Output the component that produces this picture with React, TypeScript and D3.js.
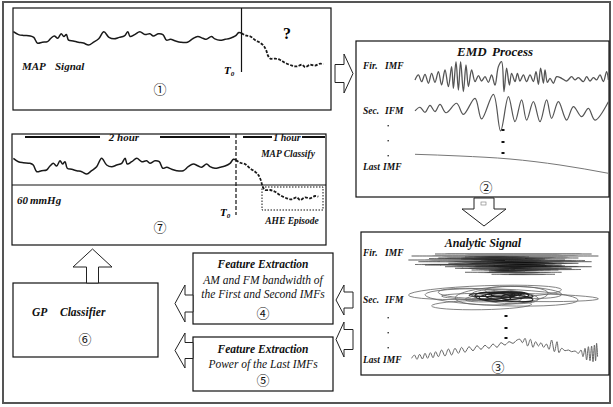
import React from 'react';
import * as d3 from 'd3';

// MAP trace as [minutes, mmHg], T0 at 120 min
const mapBefore: [number, number][] = [
  [0.2, 86.7], [2.9, 83.3], [5.5, 82.3], [9.1, 81.7], [10.9, 80], [12.8, 73.3], [15.4, 74.3],
  [18.1, 75], [19.9, 79], [21.7, 81.7], [23.5, 79], [25.3, 84.3], [26.7, 81], [28, 83.3],
  [29.2, 76.7], [31.6, 75.7], [34.3, 74.3], [37, 73.3], [39.7, 71], [42.3, 74.3], [45, 78.3],
  [47.7, 86.7], [50.4, 80], [53.1, 78.3], [55.8, 80], [58.5, 81.7], [60.3, 86.7], [61.5, 81],
  [63.9, 83.3], [66.6, 86.7], [69.3, 83.3], [71.9, 84.3], [73.7, 81.7], [76.4, 84.3], [78.7, 83.3],
  [80.6, 76.7], [82.7, 77.7], [85.4, 75.7], [88.1, 74.3], [91.6, 74.3], [94.3, 78.3], [97, 81],
  [99.7, 79], [101.5, 77.7], [104.2, 81], [106, 78.3], [108.7, 76.7], [111.4, 77.7], [114.1, 79],
  [116.8, 81.7], [118.6, 85.7], [120, 85],
];
const mapAfter: [number, number][] = [
  [120, 85], [122.7, 82.3], [126, 81], [129.3, 76.7], [132.7, 73.3], [134.9, 70], [136.5, 65],
  [137.8, 58.3], [139.3, 55], [142.7, 55], [146, 53.3], [149.3, 50], [153.8, 46.7], [157.1, 45.7],
  [160.5, 47.7], [162.7, 45], [166, 47.7], [169.3, 46.7], [172.7, 49], [174.9, 48.3],
];
const thresholdMmHg = 60;

// EMD components, [percent of record, normalized amplitude]
const firImf: [number, number][] = [
  [2.5, -0.1], [4.2, 0.21], [5.8, -0.21], [7.5, 0.25], [9.2, -0.31], [10.8, 0.31], [12.5, -0.25],
  [14.2, 0.42], [15.8, -0.42], [17.5, 0.52], [19.2, -0.52], [20.8, 0.73], [21.7, -0.63], [23, 1.04],
  [24.2, -0.73], [25.3, 1.04], [26.7, -0.83], [28, 0.83], [29.2, -0.52], [30.8, 0.52], [32.5, -0.21],
  [34.2, 0.17], [35.8, -0.17], [37.5, 0.1], [39.2, -0.25], [40.8, 0.21], [42.5, -0.42], [44.2, 0.73],
  [45.8, 1.04], [47, -0.83], [48.3, 0.63], [49.7, -0.42], [50.8, 0.31], [52.5, -0.21], [53.7, 0.31],
  [55, -0.17], [56.7, 0.21], [58.3, -0.21], [60, 0.21], [61.7, -0.21], [63, 0.42], [64.2, -0.38],
  [65.3, 0.63], [66.7, -0.31], [67.5, 0.52], [68.7, -0.25], [70, 0], [71.7, -0.31], [73.3, 0.1],
  [75.8, 0], [78.3, -0.17], [80.8, 0.1], [82.5, -0.1], [84.2, 0.04], [86.7, -0.21], [88.3, 0.1],
  [90, -0.17], [91.7, 0.04], [93.3, -0.1], [95, 0.21], [96.7, -0.21], [98.3, 0.42], [99.2, -0.1],
];
const secImf: [number, number][] = [
  [2.5, -0.06], [5, 0.17], [7.5, -0.15], [10, 0.29], [12.5, -0.1], [15, 0.35], [18, -0.17],
  [23.3, 0.42], [26.7, -0.27], [32.5, 0.73], [35.8, -0.56], [41.7, 0.98], [45.3, -1.31], [49.2, 0.83],
  [52.5, -0.73], [55.8, 0.63], [58.3, -0.63], [61.7, 0.52], [65, -0.73], [68.3, 0.63], [70.8, -0.52],
  [74.2, 0.52], [78.3, -0.63], [81.7, 0.21], [85.8, -0.42], [89.2, 0.1], [92.5, -0.63], [99.2, 0.52],
];
const lastImf: [number, number][] = [[2.5, 0.97], [25, 0.8], [50, 0.5], [75, -0.1], [99.2, -0.93]];

// analytic signal traces
// fir: [start %, end %, level, thickness]
const firAnalytic: [number, number, number, number][] = [
  [15, 93.3, 1.0, 0.6], [3.3, 96.7, 0.8, 0.8], [16.7, 86.7, 0.6, 1.8], [1.7, 80, 0.4, 0.9],
  [6.7, 93.3, 0.23, 1.6], [21.7, 86.7, 0.07, 2.2], [10, 78.3, -0.1, 1.2], [20, 93.3, -0.27, 2.0],
  [25, 83.3, -0.43, 1.4], [33.3, 76.7, -0.6, 2.0], [30, 78.3, -0.83, 1.2], [43.3, 75, -1.03, 1.0],
  [28, 70, 0.5, 2.6], [35, 80, -0.2, 2.8], [40, 72, 0.15, 2.6], [45, 65, -0.4, 2.0],
  [30, 62, 0.7, 1.6], [38, 68, 0.32, 2.4], [48, 70, -0.05, 2.2], [42, 60, -0.7, 1.8],
  [12, 60, 0.55, 0.7], [50, 90, 0.35, 0.8], [5, 45, -0.05, 0.7], [55, 88, -0.55, 0.7],
];
// sec: [centre %, level, half width %, half height, tilt deg]
const secAnalytic: [number, number, number, number, number][] = [
  [40, 0.43, 38.3, 0.67, -2], [48.3, -0.07, 38.3, 0.83, 2], [57.5, -0.07, 39.2, 0.4, 1],
  [48.3, 0.1, 23.3, 0.9, -3], [50, 0, 16.7, 0.67, 4], [38.3, -0.83, 25, 0.47, -1],
  [59.2, 0.43, 19.2, 0.57, 3], [45, -0.07, 15, 0.4, -4], [50, 0, 8.3, 0.5, 8],
  [33.3, 0.33, 16.7, 0.5, 2], [47, 0.1, 10, 0.3, -6], [52, -0.1, 12, 0.35, 5],
  [44, 0, 9, 0.45, 3], [55, 0.05, 7, 0.3, -5], [49, 0.2, 6, 0.25, 0],
  [46, 0.25, 14, 0.2, -2], [53, 0.15, 11, 0.25, 3],
];
const lastAnalytic: [number, number][] = [
  [3.3, 0.17], [4.7, 0.5], [6, 0.07], [7.3, 0.57], [8.7, 0.1], [10, 0.67], [11.3, 0.17], [12.7, 0.73],
  [14, 0.23], [15.3, 0.83], [16.7, 0.33], [18.3, 1.0], [20, 0.4], [21.7, 1.1], [23.3, 0.5], [25, 1.17],
  [26.7, 0.67], [28.3, 1.27], [30, 0.77], [32, 1.33], [34, 0.93], [36, 1.43], [38, 1.07], [40, 1.47],
  [42, 1.17], [44, 1.6], [46, 1.27], [48, 1.73], [50, 1.5], [52, 1.83], [54, 1.67], [56, 2.0],
  [57.5, 2.07], [58.7, 1.73], [60, 2.17], [61.3, 1.4], [62.7, 2.07], [64, 1.27], [65.3, 1.83],
  [66.7, 1.4], [68, 1.73], [69.3, 1.27], [70.7, 1.6], [72, 1.07], [73.3, 2.0], [74.7, 0.83], [76, 1.83],
  [77, 0.73], [78.3, 1.17], [80, 0.93], [81.7, 1.0], [83.3, 0.83], [85, 0.9], [86.7, 0.67], [88, 1.0],
  [89, 0.33], [90, 1.17], [90.8, 0], [91.7, 1.33], [92.5, -0.07], [93.3, 1.4], [94, -0.17], [94.7, 1.5],
  [95.3, -0.07], [95.8, 1.67], [96.3, 0.33],
];

const steps = ['①', '②', '③', '④', '⑤', '⑥', '⑦'];

const serif = '"Liberation Serif", "Times New Roman", serif';
const circFont = '"Noto Sans CJK JP", "DejaVu Sans", sans-serif';

type Dir = 'right' | 'left' | 'up' | 'down';
function blockArrow(tx: number, ty: number, dir: Dir, len: number, headLen: number, shaftHalf: number, headHalf: number) {
  const pts = [[0, 0], [-headLen, -headHalf], [-headLen, -shaftHalf], [-len, -shaftHalf], [-len, shaftHalf], [-headLen, shaftHalf], [-headLen, headHalf]];
  const a = ({ right: 0, down: 90, left: 180, up: 270 }[dir] * Math.PI) / 180;
  const c = Math.cos(a), s = Math.sin(a);
  return pts.map(([x, y]) => `${tx + x * c - y * s},${ty + x * s + y * c}`).join(' ');
}

const B = ({ x, y, size = 11, children, anchor = 'start', weight = 'bold' }: any) => (
  <text x={x} y={y} fontSize={size} fontStyle="italic" fontWeight={weight} textAnchor={anchor} fontFamily={serif} fill="#111">{children}</text>
);
const Num = ({ x, y, i }: any) => (
  <text x={x} y={y} fontSize={13} textAnchor="middle" dominantBaseline="central" fontFamily={circFont} fill="#111">{steps[i - 1]}</text>
);
const T0 = ({ x, y }: any) => (
  <text x={x} y={y} fontSize={11} fontStyle="italic" fontWeight="bold" fontFamily={serif}>T<tspan fontSize={7} dy={2}>0</tspan></text>
);

export default function App() {
  // box 1 and box 7 share the MAP trace
  const x1 = d3.scaleLinear().domain([0, 120, 180]).range([13, 241.5, 331]);
  const y1 = d3.scaleLinear().domain([48, 86]).range([64.5, 32.3]);
  const x7 = d3.scaleLinear().domain([0, 120, 180]).range([13, 236, 326]);
  const y7 = d3.scaleLinear().domain([60, 86]).range([185, 159]);

  const imfX = d3.scaleLinear().domain([0, 100]).range([410, 610]);
  const firY = d3.scaleLinear().domain([-1, 1]).range([94.3, 62.3]);
  const secY = d3.scaleLinear().domain([-1, 1]).range([126, 94]);
  const lastY = d3.scaleLinear().domain([-1, 1]).range([174, 154]);

  const anaX = d3.scaleLinear().domain([0, 100]).range([405, 605]);
  const aFirY = d3.scaleLinear().domain([-1, 1]).range([274, 254]);
  const aSecY = d3.scaleLinear().domain([-1, 1]).range([306.7, 286.7]);
  const aLastY = d3.scaleLinear().domain([0, 2]).range([360, 340]);

  const line = (x: any, y: any, curve: any = d3.curveLinear) =>
    d3.line<[number, number]>().x(d => x(d[0])).y(d => y(d[1])).curve(curve);
  const smooth = d3.curveCatmullRom.alpha(0.5);

  const firStrokes = firAnalytic.map(([t0, t1, a, w]) => {
    const xa = anaX(t0), xb = anaX(t1), y = aFirY(a);
    const xs = [xa, xa + (xb - xa) * 0.25, (xa + xb) / 2, xa + (xb - xa) * 0.75, xb];
    const hw = [0, 0.7, 1, 0.7, 0].map(k => (k * w) / 2);
    return d3.area<number>().x((_, i) => xs[i]).y0((_, i) => y - hw[i]).y1((_, i) => y + hw[i]).curve(d3.curveBasis)([0, 1, 2, 3, 4]) as string;
  });

  const boxStroke = { fill: 'white', stroke: '#111', strokeWidth: 1.2 };

  return (
    <svg width={613} height={407} style={{ position: 'absolute', left: 0, top: 0, background: 'white' }}>
      <rect x={3} y={2} width={607} height={401} fill="white" stroke="#555" strokeWidth={2} />

      {/* box 1: MAP signal */}
      <rect x={13} y={8} width={318} height={102} {...boxStroke} />
      <path d={line(x1, y1, smooth)(mapBefore) as string} fill="none" stroke="#1a1a1a" strokeWidth={1.5} />
      <path d={line(x1, y1, smooth)(mapAfter) as string} fill="none" stroke="#1a1a1a" strokeWidth={1.8} strokeDasharray="3 1.4" />
      <line x1={x1(120)} x2={x1(120)} y1={8} y2={72} stroke="#111" strokeWidth={1.2} />
      <text x={287} y={39} fontSize={16} fontWeight="bold" textAnchor="middle" fontFamily={serif}>?</text>
      <B x={22} y={70}>MAP</B>
      <B x={55} y={70}>Signal</B>
      <T0 x={224} y={74} />
      <Num x={160} y={88} i={1} />

      {/* arrow 1 -> 2 */}
      <polygon points={blockArrow(353, 73.5, 'right', 18, 9, 9, 19.5)} fill="white" stroke="#222" strokeWidth={1} />

      {/* box 2: EMD */}
      <rect x={356} y={41} width={253} height={156} {...boxStroke} />
      <B x={457} y={56} size={13}>EMD</B>
      <B x={492} y={56} size={13}>Process</B>
      <B x={363} y={69} size={9.5}>Fir.</B>
      <B x={385} y={69} size={9.5}>IMF</B>
      <B x={363} y={114} size={9.5}>Sec.</B>
      <B x={385} y={114} size={9.5}>IFM</B>
      <B x={363} y={170} size={9.5}>Last</B>
      <B x={383} y={170} size={9.5}>IMF</B>
      <path d={line(imfX, firY, smooth)(firImf) as string} fill="none" stroke="#555" strokeWidth={1.3} />
      <path d={line(imfX, secY, smooth)(secImf) as string} fill="none" stroke="#555" strokeWidth={1.2} />
      <path d={line(imfX, lastY, d3.curveMonotoneX)(lastImf) as string} fill="none" stroke="#777" strokeWidth={1} />
      {[125, 140, 155].map(y => <rect key={y} x={387.5} y={y} width={1.4} height={1.4} fill="#333" />)}
      {[129, 141, 152].map(y => <rect key={y} x={501.5} y={y} width={3} height={2} fill="#111" />)}
      <Num x={486} y={186} i={2} />

      {/* arrow 2 -> 3 */}
      <polygon points={blockArrow(484, 226, 'down', 28, 17, 10, 22)} fill="white" stroke="#222" strokeWidth={1} />
      <rect x={481} y={202} width={5} height={3} fill="none" stroke="#777" strokeWidth={0.6} />

      {/* box 3: analytic signal */}
      <rect x={361} y={232} width={248} height={143} {...boxStroke} />
      <B x={483} y={247} size={12} anchor="middle">Analytic Signal</B>
      <B x={363} y={256} size={9.5}>Fir.</B>
      <B x={385} y={256} size={9.5}>IMF</B>
      <B x={363} y={303} size={9.5}>Sec.</B>
      <B x={385} y={303} size={9.5}>IFM</B>
      <B x={363} y={363} size={9.5}>Last</B>
      <B x={383} y={363} size={9.5}>IMF</B>
      {firStrokes.map((d, i) => <path key={i} d={d} fill="#0a0a0a" fillOpacity={0.9} stroke="#444" strokeWidth={0.5} />)}
      {secAnalytic.map(([t, a, rt, ra, rot], i) => {
        const cx = anaX(t), cy = aSecY(a);
        return (
          <ellipse key={i} cx={cx} cy={cy} rx={anaX(t + rt) - cx} ry={Math.abs(aSecY(ra) - aSecY(0))}
            transform={`rotate(${rot},${cx},${cy})`} fill="none" stroke={i > 9 ? '#222' : '#666'} strokeWidth={i > 9 ? 1.1 : 0.8} />
        );
      })}
      <path d={line(anaX, aLastY, smooth)(lastAnalytic) as string} fill="none" stroke="#666" strokeWidth={1} />
      {[317, 332, 347].map(y => <rect key={y} x={387.5} y={y} width={1.4} height={1.4} fill="#333" />)}
      {[315, 327, 337].map(y => <rect key={y} x={504.5} y={y} width={3} height={2} fill="#111" />)}
      <Num x={498} y={366} i={3} />

      {/* arrows 3 -> 4, 3 -> 5 */}
      <polygon points={blockArrow(336, 300, 'left', 17, 8, 8, 15)} fill="white" stroke="#222" strokeWidth={1} />
      <polygon points={blockArrow(336, 339.5, 'left', 17, 8, 10, 17.5)} fill="white" stroke="#222" strokeWidth={1} />

      {/* box 4 */}
      <rect x={193} y={253} width={140} height={71} {...boxStroke} />
      <B x={263} y={268} size={11.5} anchor="middle">Feature Extraction</B>
      <B x={263} y={284} size={11.5} anchor="middle" weight="normal">AM and FM bandwidth of</B>
      <B x={263} y={298} size={11.5} anchor="middle" weight="normal">the First and Second IMFs</B>
      <Num x={263} y={312} i={4} />

      {/* box 5 */}
      <rect x={193} y={337} width={140} height={54} {...boxStroke} />
      <B x={263} y={353} size={11.5} anchor="middle">Feature Extraction</B>
      <B x={263} y={368} size={11.5} anchor="middle" weight="normal">Power of the Last IMFs</B>
      <Num x={263} y={379} i={5} />

      {/* arrows 4,5 -> 6 */}
      <polygon points={blockArrow(175, 303.5, 'left', 18, 10, 8.5, 18.5)} fill="white" stroke="#222" strokeWidth={1} />
      <polygon points={blockArrow(175, 350.5, 'left', 18, 10, 8, 17.5)} fill="white" stroke="#222" strokeWidth={1} />

      {/* box 6: GP classifier */}
      <rect x={13} y={283} width={145} height={74} {...boxStroke} />
      <B x={32} y={316} size={11.5}>GP</B>
      <B x={60} y={316} size={11.5}>Classifier</B>
      <Num x={85} y={338} i={6} />

      {/* arrow 6 -> 7 */}
      <polygon points={blockArrow(92.5, 249, 'up', 34, 18, 6, 19.5)} fill="white" stroke="#222" strokeWidth={1} />

      {/* box 7: classification */}
      <rect x={12} y={134} width={314} height={111} {...boxStroke} />
      <line x1={25} x2={100} y1={137} y2={137} stroke="#111" strokeWidth={2} />
      <line x1={160} x2={230} y1={137} y2={137} stroke="#111" strokeWidth={2} />
      <B x={124} y={141} size={11} anchor="middle">2 hour</B>
      <line x1={243} x2={272} y1={137} y2={137} stroke="#111" strokeWidth={2} />
      <line x1={302} x2={325} y1={137} y2={137} stroke="#111" strokeWidth={2} />
      <B x={287} y={141} size={10} anchor="middle">1 hour</B>
      <B x={288} y={157} size={9.5} anchor="middle">MAP Classify</B>
      <line x1={12} x2={326} y1={y7(thresholdMmHg)} y2={y7(thresholdMmHg)} stroke="#111" strokeWidth={1} />
      <B x={17} y={204} size={11}>60</B>
      <B x={30} y={204} size={11}>mmHg</B>
      <path d={line(x7, y7, smooth)(mapBefore) as string} fill="none" stroke="#1a1a1a" strokeWidth={1.5} />
      <path d={line(x7, y7, smooth)(mapAfter) as string} fill="none" stroke="#1a1a1a" strokeWidth={1.8} strokeDasharray="3 1.4" />
      <line x1={x7(120)} x2={x7(120)} y1={134} y2={215} stroke="#111" strokeWidth={1.2} strokeDasharray="4 2" />
      <rect x={262} y={187} width={61} height={23} fill="none" stroke="#111" strokeWidth={1} strokeDasharray="1.5 1.5" />
      <T0 x={220} y={216} />
      <B x={292} y={224} size={9.5} anchor="middle">AHE Episode</B>
      <Num x={160} y={226} i={7} />
    </svg>
  );
}
